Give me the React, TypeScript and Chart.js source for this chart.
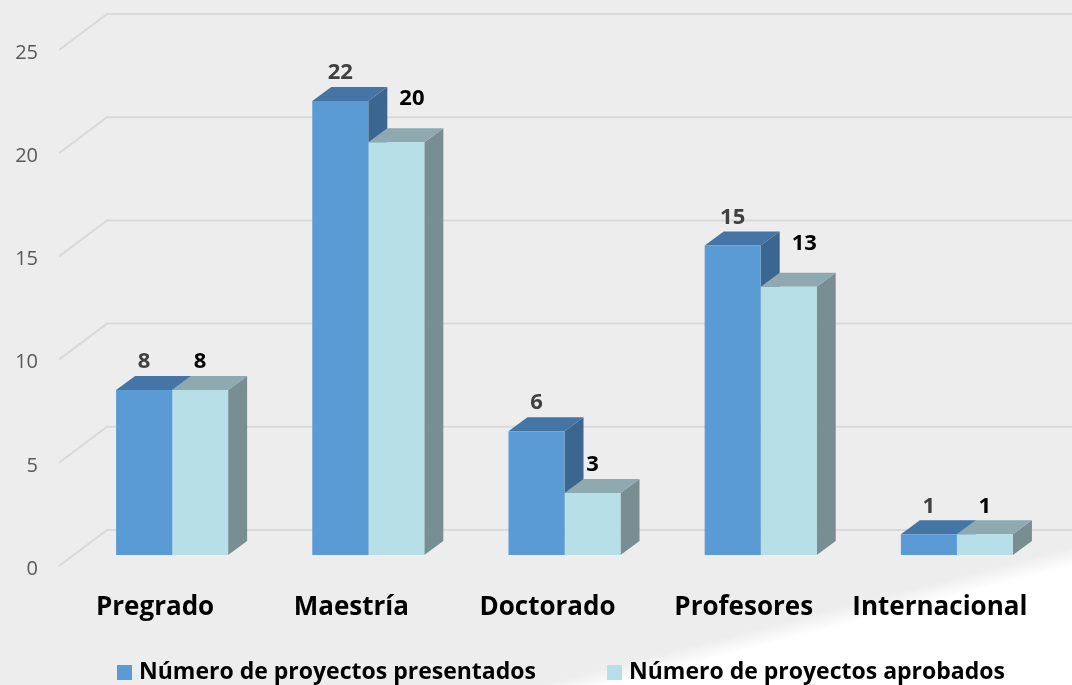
import React, { useEffect, useRef } from "react";
import { Chart, registerables } from "chart.js";

Chart.register(...registerables);

const categories = ["Pregrado", "Maestría", "Doctorado", "Profesores", "Internacional"];
const presentados = [8, 22, 6, 15, 1];
const aprobados = [8, 20, 3, 13, 1];
const seriesNames = ["Número de proyectos presentados", "Número de proyectos aprobados"];
const yTicks = [0, 5, 10, 15, 20, 25];

const FONT = "'Open Sans'";
const BG = "#ecedec";
const BLUE = "#5b9bd5";
const BLUE_TOP = "#4575a5";
const BLUE_SIDE = "#3b6690";
const LIGHT = "#b6dfe8";
const LIGHT_TOP = "#8eaab0";
const LIGHT_SIDE = "#788e93";
const DX = 19;
const DY = 14;

const noPad = (s: any) => {
  s.paddingTop = 0;
  s.paddingBottom = 0;
  s.paddingLeft = 0;
  s.paddingRight = 0;
};

const threeD = {
  id: "threeD",
  beforeDraw(chart: any) {
    const { ctx, width, height } = chart;
    ctx.save();
    // background with soft white wedge at bottom right
    const nx = 0.251, ny = 0.968;
    const ex = 830, ey = 616;
    const g = ctx.createLinearGradient(ex - nx * 6, ey - ny * 6, ex + nx * 12, ey + ny * 12);
    g.addColorStop(0, BG);
    g.addColorStop(1, "#ffffff");
    ctx.fillStyle = g;
    ctx.fillRect(0, 0, width, height);
    ctx.restore();
  },
  beforeDatasetsDraw(chart: any) {
    const { ctx, chartArea } = chart;
    const ys = chart.scales.y;
    ctx.save();
    ctx.strokeStyle = "#d9d9d9";
    ctx.lineWidth = 2;
    yTicks.forEach((v) => {
      const py = ys.getPixelForValue(v);
      ctx.beginPath();
      ctx.moveTo(chartArea.left - 15, py + 11);
      ctx.lineTo(chartArea.left + 33, py - 25);
      ctx.lineTo(chart.width, py - 25);
      ctx.stroke();
    });
    const metas = [chart.getDatasetMeta(0), chart.getDatasetMeta(1)];
    const tops = [BLUE_TOP, LIGHT_TOP];
    const sides = [BLUE_SIDE, LIGHT_SIDE];
    for (let i = 0; i < categories.length; i++) {
      metas.forEach((meta: any, d: number) => {
        const bar = meta.data[i];
        const { x, y, base, width } = bar.getProps(["x", "y", "base", "width"], true);
        const l = x - width / 2;
        const r = x + width / 2;
        ctx.fillStyle = sides[d];
        ctx.beginPath();
        ctx.moveTo(r, y);
        ctx.lineTo(r + DX, y - DY);
        ctx.lineTo(r + DX, base - DY);
        ctx.lineTo(r, base);
        ctx.closePath();
        ctx.fill();
        ctx.fillStyle = tops[d];
        ctx.beginPath();
        ctx.moveTo(l, y);
        ctx.lineTo(l + DX, y - DY);
        ctx.lineTo(r + DX, y - DY);
        ctx.lineTo(r, y);
        ctx.closePath();
        ctx.fill();
      });
    }
    ctx.restore();
  },
  afterDatasetsDraw(chart: any) {
    const { ctx } = chart;
    const m0 = chart.getDatasetMeta(0);
    const m1 = chart.getDatasetMeta(1);
    ctx.save();
    ctx.font = `bold 22px ${FONT}`;
    ctx.textAlign = "center";
    ctx.textBaseline = "middle";
    for (let i = 0; i < categories.length; i++) {
      const b0 = m0.data[i].getProps(["x", "y", "width"], true);
      const b1 = m1.data[i].getProps(["x", "y", "width"], true);
      ctx.fillStyle = "#404040";
      ctx.fillText(String(presentados[i]), b0.x, b0.y - DY - 14);
      const t = String(aprobados[i]);
      const tw = ctx.measureText(t).width;
      let lx = b1.x;
      let ly = b1.y - DY - 14;
      const blueRight = b0.x + b0.width / 2 + DX;
      if (aprobados[i] < presentados[i] && lx - tw / 2 < blueRight + 1) {
        lx = blueRight + 12 + tw / 2;
        ly -= 15;
      }
      ctx.fillStyle = "#000000";
      ctx.fillText(t, lx, ly);
    }
    ctx.restore();
  },
  afterDraw(chart: any) {
    const { ctx } = chart;
    ctx.save();
    ctx.font = `bold 23px ${FONT}`;
    ctx.textBaseline = "middle";
    ctx.textAlign = "left";
    const items = [
      { x: 117, color: BLUE, text: seriesNames[0] },
      { x: 607, color: LIGHT, text: seriesNames[1] },
    ];
    items.forEach((it) => {
      ctx.fillStyle = it.color;
      ctx.fillRect(it.x, 665, 15, 15);
      ctx.fillStyle = "#000000";
      ctx.fillText(it.text, it.x + 22, 672);
    });
    ctx.restore();
  },
};

export default function App() {
  const ref = useRef<HTMLCanvasElement | null>(null);
  useEffect(() => {
    if (!ref.current) return;
    const chart = new Chart(ref.current, {
      type: "bar",
      data: {
        labels: categories,
        datasets: [
          { label: seriesNames[0], data: presentados, backgroundColor: BLUE, borderWidth: 0, categoryPercentage: 0.571, barPercentage: 1 },
          { label: seriesNames[1], data: aprobados, backgroundColor: LIGHT, borderWidth: 0, categoryPercentage: 0.571, barPercentage: 1 },
        ],
      },
      options: {
        responsive: false,
        animation: false,
        layout: { padding: { top: 39, right: 17, left: 0, bottom: 0 } },
        plugins: { legend: { display: false }, tooltip: { enabled: false } },
        scales: {
          x: {
            grid: { display: false, drawTicks: false },
            border: { display: false },
            ticks: { font: { family: FONT, weight: "bold", size: 26 }, color: "#000000", padding: 37, labelOffset: -17 },
            afterFit: (s: any) => { s.height = 130; noPad(s); },
          },
          y: {
            min: 0,
            max: 25,
            grid: { display: false, drawTicks: false },
            border: { display: false },
            ticks: { stepSize: 5, font: { family: FONT, size: 20 }, color: "#595959", padding: 36, labelOffset: 14 },
            afterFit: (s: any) => { s.width = 74; noPad(s); },
          },
        },
      },
      plugins: [threeD],
    });
    return () => chart.destroy();
  }, []);
  return (
    <div style={{ position: "fixed", left: 0, top: 0, width: 1072, height: 685, background: BG }}>
      <canvas ref={ref} width={1072} height={685} />
    </div>
  );
}
